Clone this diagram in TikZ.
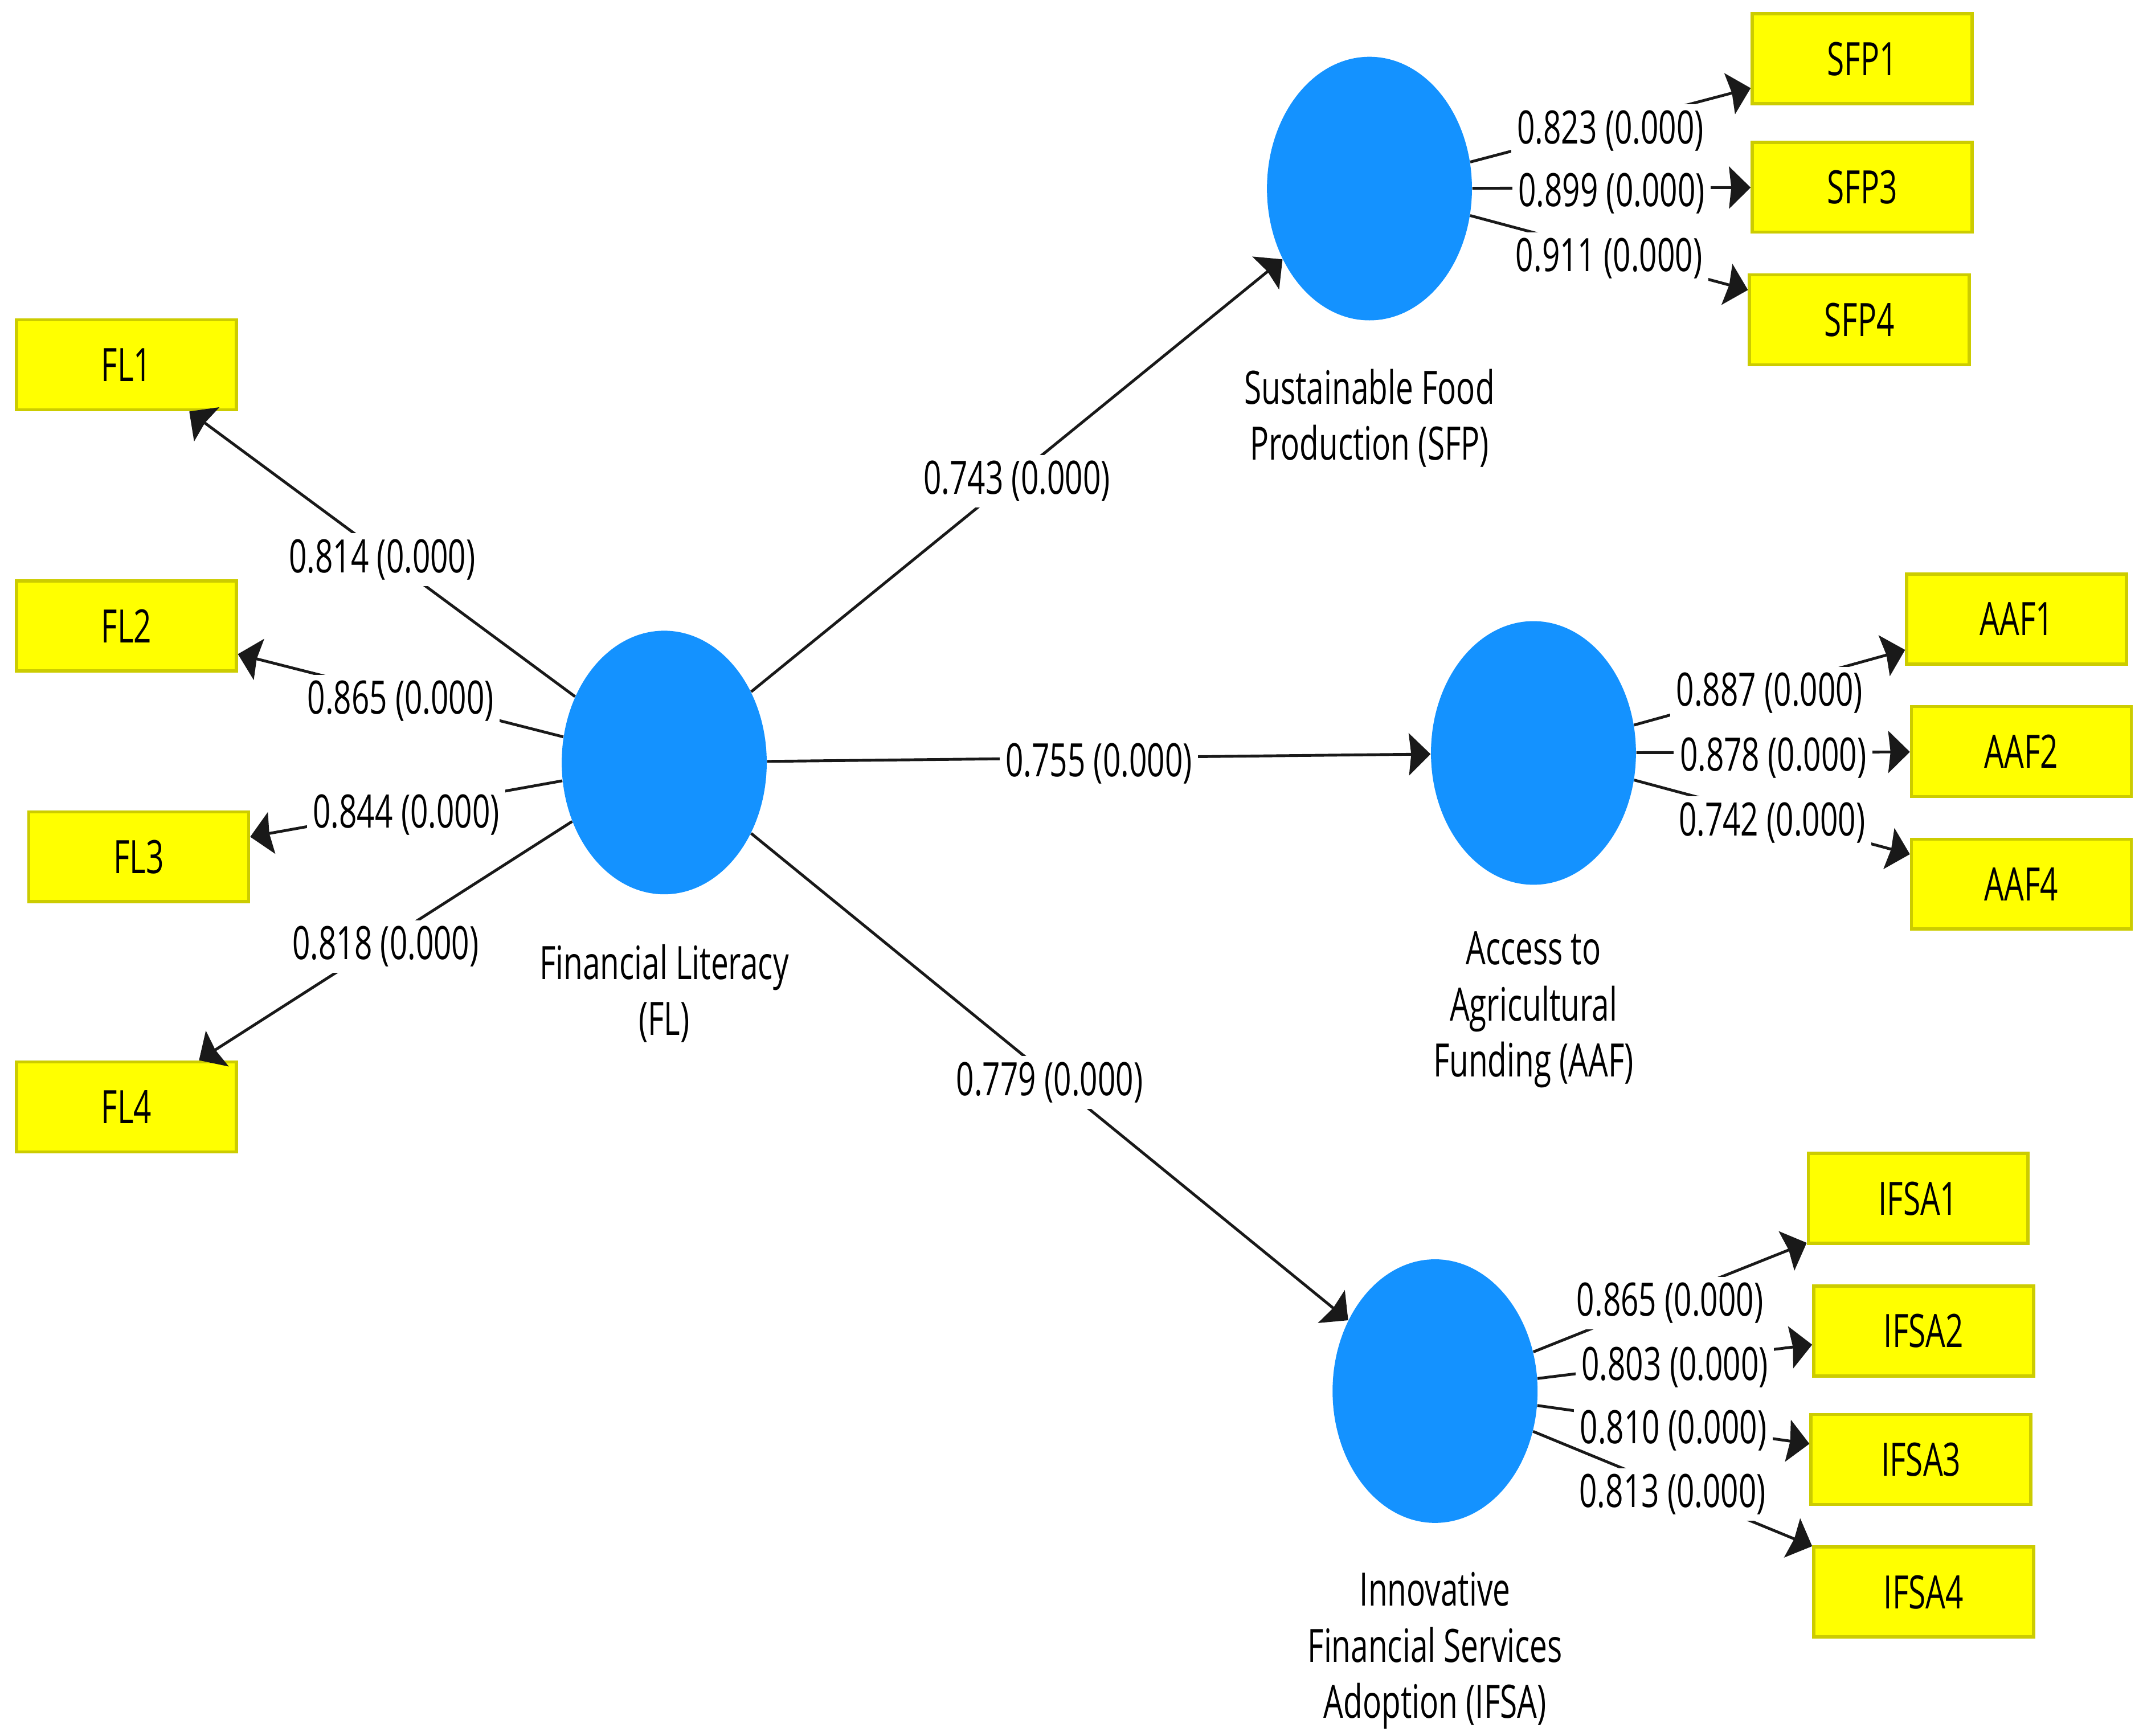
\documentclass[tikz,border=0pt]{standalone}
\usepackage{fontspec}
\setmainfont{Open Sans}[FakeStretch=0.68]
\usetikzlibrary{arrows.meta,shapes.geometric}
\definecolor{lvblue}{RGB}{20,146,255}
\definecolor{boxfill}{RGB}{255,255,0}
\definecolor{boxline}{RGB}{204,204,0}
\definecolor{linec}{RGB}{25,25,25}
\tikzset{
  lv/.style={ellipse, fill=lvblue, draw=none, minimum width=3.6cm, minimum height=4.63cm, inner sep=0pt},
  ind/.style={rectangle, fill=boxfill, draw=boxline, line width=1.6pt, minimum width=3.86cm, minimum height=1.58cm, inner sep=0pt, font=\fontsize{23pt}{28pt}\selectfont},
  lvlabel/.style={align=center, inner sep=0pt, font=\fontsize{23pt}{28pt}\selectfont},
  val/.style={fill=white, inner xsep=3pt, inner ysep=3pt, font=\fontsize{23pt}{28pt}\selectfont, pos=0.5, yshift=-0.1cm},
  conn/.style={draw=linec, line width=1.4pt, arrows={-Stealth[length=0.38cm,width=0.74cm,inset=0.04cm]}},
}
\begin{document}
\begin{tikzpicture}[x=0.024cm,y=-0.024cm]
\useasboundingbox (0,0) rectangle (1568,1270);
% latent variables
\node[lv] (FL) at (486,558) {};
\node[lv] (SFP) at (1002,138) {};
\node[lv] (AAF) at (1122,551) {};
\node[lv] (IFSA) at (1050,1018) {};
% latent labels
\node[lvlabel] (FLt) at (486,727) {Financial Literacy\\(FL)};
\node[lvlabel] (SFPt) at (1002,306) {Sustainable Food\\Production (SFP)};
\node[lvlabel] (AAFt) at (1122,739) {Access to\\Agricultural\\Funding (AAF)};
\node[lvlabel] (IFSAt) at (1050,1208) {Innovative\\Financial Services\\Adoption (IFSA)};
% indicators
\node[ind] (FL1) at (92.5,267) {FL1};
\node[ind] (FL2) at (92.5,458) {FL2};
\node[ind] (FL3) at (101.5,627) {FL3};
\node[ind] (FL4) at (92.5,810) {FL4};
\node[ind] (SFP1) at (1362.5,43) {SFP1};
\node[ind] (SFP3) at (1362.5,137) {SFP3};
\node[ind] (SFP4) at (1360.5,234) {SFP4};
\node[ind] (AAF1) at (1475.5,453) {AAF1};
\node[ind] (AAF2) at (1479,550) {AAF2};
\node[ind] (AAF4) at (1479,647) {AAF4};
\node[ind] (IFSA1) at (1403.5,877) {IFSA1};
\node[ind] (IFSA2) at (1407.5,974) {IFSA2};
\node[ind] (IFSA3) at (1405.5,1068) {IFSA3};
\node[ind] (IFSA4) at (1407.5,1165) {IFSA4};
% structural paths
\draw[conn] (FL) -- node[val] {0.743 (0.000)} (SFP);
\draw[conn] (FL) -- node[val] {0.755 (0.000)} (AAF);
\draw[conn] (FL) -- node[val] {0.779 (0.000)} (IFSA);
% FL loadings
\draw[conn] (FL) -- node[val] {0.814 (0.000)} (FL1);
\draw[conn] (FL) -- node[val] {0.865 (0.000)} (FL2);
\draw[conn] (FL) -- node[val] {0.844 (0.000)} (FL3);
\draw[conn] (FL) -- node[val] {0.818 (0.000)} (FL4);
% SFP loadings
\draw[conn] (SFP) -- node[val] {0.823 (0.000)} (SFP1);
\draw[conn] (SFP) -- node[val] {0.899 (0.000)} (SFP3);
\draw[conn] (SFP) -- node[val] {0.911 (0.000)} (SFP4);
% AAF loadings
\draw[conn] (AAF) -- node[val] {0.887 (0.000)} (AAF1);
\draw[conn] (AAF) -- node[val] {0.878 (0.000)} (AAF2);
\draw[conn] (AAF) -- node[val] {0.742 (0.000)} (AAF4);
% IFSA loadings
\draw[conn] (IFSA) -- node[val] {0.865 (0.000)} (IFSA1);
\draw[conn] (IFSA) -- node[val] {0.803 (0.000)} (IFSA2);
\draw[conn] (IFSA) -- node[val] {0.810 (0.000)} (IFSA3);
\draw[conn] (IFSA) -- node[val] {0.813 (0.000)} (IFSA4);
\end{tikzpicture}
\end{document}
